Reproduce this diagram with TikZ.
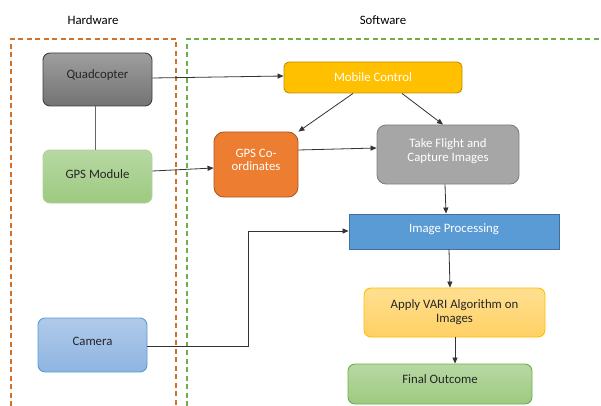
\documentclass[tikz,border=0pt]{standalone}
\usepackage{fontspec}
\setmainfont{Carlito}
\usetikzlibrary{arrows.meta}
\definecolor{hwline}{HTML}{D0722E}
\definecolor{swline}{HTML}{70AD47}
\begin{document}
\begin{tikzpicture}[x=1pt,y=-1pt,
  box/.style={rounded corners=7pt, line width=0.9pt, font=\fontsize{12.8}{15}\selectfont, align=center, inner sep=0pt},
  conn/.style={line width=0.8pt, draw=black!80},
  arr/.style={conn, -{Triangle[length=6pt,width=5pt]}},
  lbl/.style={font=\fontsize{12.8}{15}\selectfont},
  zone/.style={dashed, line width=1.4pt, dash pattern=on 5pt off 3.5pt}]
\useasboundingbox[fill=white] (0,0) rectangle (601,406);
% zones
\draw[zone, hwline] (11,406) -- (11,39) -- (176,39) -- (176,406);
\draw[zone, swline] (187,406) -- (187,39) -- (601,39);
\node[lbl] (hw) at (93,20) {Hardware};
\node[lbl] (sw) at (383,20) {Software};
% hardware nodes
\node[box, draw=black!75, top color=black!38, bottom color=black!55, minimum width=109pt, minimum height=53pt, text=black!85] (quad) at (97.5,79.5) {\raisebox{10pt}{Quadcopter}};
\node[box, draw=swline!55, top color={rgb,255:red,183;green,216;blue,163}, bottom color={rgb,255:red,157;green,202;blue,128}, text=black!85, minimum width=109pt, minimum height=53pt] (gps) at (97.5,176.5) {\raisebox{5pt}{GPS Module}};
\node[box, draw={rgb,255:red,91;green,155;blue,213}, top color={rgb,255:red,176;green,202;blue,233}, bottom color={rgb,255:red,142;green,181;blue,226}, text=black!85, minimum width=109pt, minimum height=54pt] (cam) at (92.5,345) {\raisebox{8pt}{Camera}};
% software nodes
\node[box, rounded corners=5pt, draw={rgb,255:red,191;green,144;blue,0}, fill={rgb,255:red,255;green,192;blue,0}, text=white, minimum width=178pt, minimum height=31pt] (mob) at (373,77.5) {\raisebox{1pt}{Mobile Control}};
\node[box, rounded corners=10pt, draw={rgb,255:red,174;green,90;blue,33}, fill={rgb,255:red,237;green,125;blue,49}, text=white, minimum width=84pt, minimum height=65pt] (gpsc) at (256,164.5) {\raisebox{10pt}{\shortstack{GPS Co-\\[1pt]ordinates}}};
\node[box, rounded corners=9pt, draw=black!50, fill=black!35, text=white, minimum width=142pt, minimum height=59pt] (take) at (448,154.5) {\raisebox{9pt}{\shortstack{Take Flight and\\[1pt]Capture Images}}};
\node[box, rounded corners=0pt, draw={rgb,255:red,65;green,113;blue,156}, fill={rgb,255:red,91;green,155;blue,213}, text=white, minimum width=210pt, minimum height=35pt] (imp) at (454,231.5) {\raisebox{7pt}{Image Processing}};
\node[box, draw={rgb,255:red,255;green,192;blue,0}, top color={rgb,255:red,255;green,224;blue,145}, bottom color={rgb,255:red,255;green,208;blue,100}, text=black!85, minimum width=181pt, minimum height=49pt] (vari) at (454.5,312.5) {\raisebox{3pt}{\shortstack{Apply VARI Algorithm on\\[1pt]Images}}};
\node[box, draw=swline, top color={rgb,255:red,183;green,216;blue,163}, bottom color={rgb,255:red,157;green,202;blue,128}, text=black!85, minimum width=184pt, minimum height=40pt] (fin) at (440,384) {\raisebox{9pt}{Final Outcome}};
% connectors
\draw[arr] (quad.east |- 0,78) -- (mob.west |- 0,76);
\draw[conn, draw=black!60] (quad.south -| 95,0) -- (gps.north -| 95,0);
\draw[arr] (gps.east |- 0,171) -- (gpsc.west |- 0,168);
\draw[arr] (mob.south -| 353,0) -- (gpsc.north east);
\draw[arr] (mob.south -| 402,0) -- (take.north -| 443,0);
\draw[arr] (gpsc.east |- 0,150) -- (take.west |- 0,148);
\draw[arr] (take.south -| 445,0) -- (imp.north -| 446,0);
\draw[arr] (cam.east |- 0,346) -- (248,346) -- (248,231) -- (imp.west |- 0,231);
\draw[arr] (imp.south -| 449,0) -- (vari.north -| 450,0);
\draw[arr] (vari.south -| 455,0) -- (fin.north -| 455,0);
\end{tikzpicture}
\end{document}
